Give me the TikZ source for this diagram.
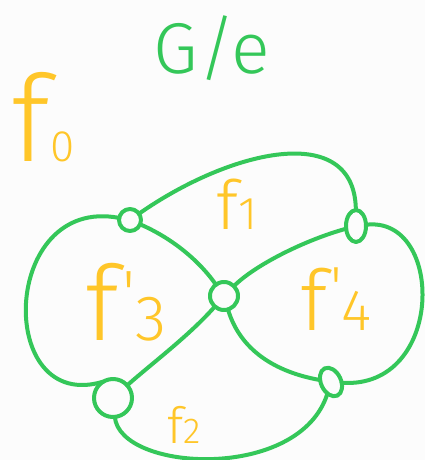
\documentclass[tikz,border=0pt]{standalone}
\usepackage{fontspec}
\setmainfont{Fira Sans Light}
\usepackage{tikz}
\usetikzlibrary{shapes.geometric}
\definecolor{pengreen}{RGB}{52,199,89}
\definecolor{penyellow}{RGB}{255,198,41}
\definecolor{paper}{RGB}{252,252,252}
\tikzset{
  pen/.style={draw=pengreen,line width=4pt,line cap=round,line join=round},
  knot/.style={circle,pen,inner sep=0pt,outer sep=0pt},
  ovalknot/.style={ellipse,pen,inner sep=0pt,outer sep=0pt},
  facelabel/.style={text=penyellow,inner sep=0pt,anchor=base},
  title/.style={text=pengreen,inner sep=0pt,anchor=base,font=\fontsize{72}{72}\selectfont}
}
\newcommand{\facef}[3]{\fontsize{#1}{#1}\selectfont f{\fontsize{#2}{#2}\selectfont #3}}
\newcommand{\facefp}[3]{\fontsize{#1}{#1}\selectfont f\kern3pt{\fontsize{#2}{#2}\selectfont\raisebox{0.38em}{\textquotesingle}\kern0pt#3}}

\begin{document}
\begin{tikzpicture}[x=1pt,y=-1pt]
  \fill[paper] (0,0) rectangle (425,460);
  \useasboundingbox (0,0) rectangle (425,460);
  \node[title] (quot) at (212,74) {G/e};
  \node[facelabel] (f0) at (43,161) {\facef{120}{44}{0}};
  \node[facelabel] (f1) at (237,229) {\facef{68}{46}{1}};
  \node[facelabel] (f3) at (126,340) {\facefp{104}{64}{3}};
  \node[facelabel] (f4) at (336,330) {\facefp{84}{58}{4}};
  \node[facelabel] (f2) at (184,443) {\facef{50}{36}{2}};
  \node[knot,minimum size=22pt] (tl) at (130,220) {};
  \node[ovalknot,minimum width=20pt,minimum height=32pt] (tr) at (356,226) {};
  \node[knot,minimum size=28pt] (c) at (224,296) {};
  \node[knot,minimum size=38pt] (bl) at (113,398) {};
  \node[ovalknot,minimum width=20pt,minimum height=30pt,rotate=25] (br) at (331,382) {};
  \draw[pen] (tl) .. controls (230,150) and (355,120) .. (tr);
  \draw[pen] (tl) .. controls (0,195) and (-5,415) .. (bl.120);
  \draw[pen] (tl) .. controls (165,235) and (195,255) .. (c);
  \draw[pen] (c) .. controls (190,335) and (150,365) .. (bl);
  \draw[pen] (c) .. controls (255,265) and (305,240) .. (tr);
  \draw[pen] (tr) .. controls (445,215) and (445,390) .. (br);
  \draw[pen] (c) .. controls (240,350) and (275,372) .. (br);
  \draw[pen] (bl) .. controls (120,472) and (300,482) .. (br);
\end{tikzpicture}
\end{document}
